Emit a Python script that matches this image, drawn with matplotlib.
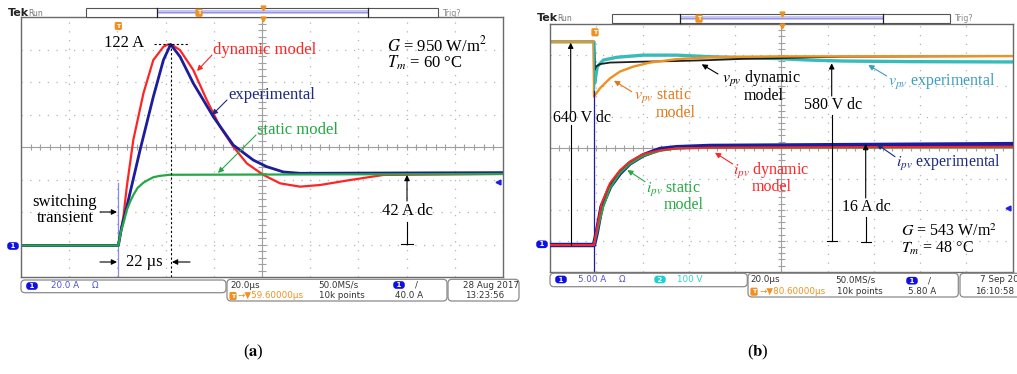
import matplotlib
matplotlib.use("Agg")
import matplotlib.pyplot as plt
from matplotlib.collections import LineCollection
from matplotlib.patches import FancyBboxPatch, Rectangle

plt.rcParams["font.family"] = ["Liberation Serif", "DejaVu Serif"]
plt.rcParams["mathtext.fontset"] = "stix"

W, H = 1017, 374

# ---- (a) current step, 20 A/div, 20 us/div, t = 0 at switching
a_t_dyn = [-41, 0, 2.1, 3.5, 6.2, 10.4, 14.5, 16.6, 18.7, 20.8, 22.8, 25.6, 31.1, 36.7,
           42.2, 47.7, 53.3, 60.2, 67.1, 75.4, 83.7, 96.1, 110.0, 160]
a_i_dyn = [0, 0, 17.5, 35.7, 64.0, 92.3, 112.5, 116.5, 120.6, 122.0, 121.2, 118.5, 106.4, 88.2,
           72.0, 59.9, 49.8, 42.8, 37.7, 35.7, 36.7, 39.7, 42.8, 43.4]
a_t_exp = [-41, 0, 1.4, 3.5, 9.0, 14.5, 18.7, 21.7, 25.6, 31.1, 39.4, 47.7, 56.0, 61.6,
           68.5, 75.4, 160]
a_i_exp = [0, 0, 11.4, 23.5, 57.9, 90.2, 112.5, 122.0, 114.5, 98.4, 78.1, 60.9, 51.8, 47.8,
           44.6, 43.8, 44.2]
a_t_sta = [-41, 0, 1.0, 2.1, 3.5, 5.0, 6.2, 8.0, 10.4, 12.0, 14.5, 17.0, 21.3, 160]
a_i_sta = [0, 0, 8.0, 13.5, 21.5, 27.0, 30.6, 35.0, 38.1, 39.5, 41.4, 42.2, 42.9, 43.4]
a_spike_t = [0, 0]
a_spike_i = [38, -19]

# ---- (b) ipv (5 A/div) and vpv (100 V/div), 20 us/div
b_t_idyn = [-20, 0, 1.44, 3.31, 6.92, 11.24, 15.56, 21.3, 28.5, 35.7, 50.1, 182]
b_i_idyn = [0, 0, 3.0, 6.7, 10.0, 12.1, 13.5, 14.7, 15.3, 15.6, 15.7, 15.9]
b_t_ista = [-20, 0, 1.87, 4.03, 6.92, 11.24, 15.56, 21.3, 28.5, 35.7, 50.1, 182]
b_i_ista = [0, 0, 3.0, 6.2, 9.2, 11.6, 13.1, 14.4, 15.2, 15.6, 15.7, 15.8]
b_t_iexp = [-20, 0, 1.15, 3.31, 6.92, 11.24, 15.56, 21.3, 28.5, 35.7, 50.1, 182]
b_i_iexp = [0, 0, 1.9, 6.2, 9.4, 11.6, 13.2, 14.5, 15.5, 15.8, 16.0, 16.3]

b_t_vsta = [-20, 0, 0, 2.59, 6.92, 11.24, 17.0, 24.2, 35.7, 50.1, 64.5, 79.0, 182]
b_v_vsta = [640, 640, 463, 490, 522, 544, 560, 573, 584, 590, 592, 593, 594]
b_t_vdyn = [-20, 0, 0.4, 0.86, 2.59, 6.92, 21.3, 35.7, 50.1, 64.5, 79.0, 93.4, 107.8, 182]
b_v_vdyn = [640, 640, 550, 560, 568, 573, 576, 578, 581, 585, 587, 590, 592, 594]
b_t_vexp = [-20, 0, 0.3, 1.44, 4.03, 9.8, 21.3, 35.7, 50.1, 64.5, 79.0, 93.4, 107.8, 122.2,
            136.6, 182]
b_v_vexp = [640, 640, 506, 560, 581, 590, 597, 597, 592, 589, 586, 581, 578, 577,
            576, 575]
b_spike_t = [0, 0]
b_spike_v = [-100, 480]      # switching transient seen on channel 1
b_spike_cyan = [480, 640]

RED, GREEN, NAVY = "#ff2424", "#25a844", "#1c1c9c"
ORANGE, CYAN = "#f09020", "#22b4b4"

fig = plt.figure(figsize=(W / 100, H / 100), dpi=100)


def px_rect(l, r, t, b):
    return [l / W, 1 - b / H, (r - l) / W, (b - t) / H]


def graticule(ax):
    ax.set_xticks([])
    ax.set_yticks([])
    for s in ax.spines.values():
        s.set_color("#6a6a6a")
        s.set_linewidth(1)
    tr = ax.transAxes
    for i in range(1, 10):
        ax.plot([i / 10] * 2, [0, 1], transform=tr, color="#b4b4b4", lw=0.9, ls=(0, (1, 6)), zorder=0)
    for j in range(1, 8):
        ax.plot([0, 1], [j / 8] * 2, transform=tr, color="#b4b4b4", lw=0.9, ls=(0, (1, 6)), zorder=0)
    ax.plot([0.5, 0.5], [0, 1], transform=tr, color="#a0a0a0", lw=0.8, zorder=0)
    ax.plot([0, 1], [0.5, 0.5], transform=tr, color="#a0a0a0", lw=0.8, zorder=0)
    segs = [[(k / 50, 0.488), (k / 50, 0.512)] for k in range(1, 50)]
    segs += [[(0.492, k / 40), (0.508, k / 40)] for k in range(1, 40)]
    ax.add_collection(LineCollection(segs, colors="#a0a0a0", lw=0.8, transform=tr, zorder=0))


# panel (a)
axa = fig.add_axes(px_rect(21, 503, 17, 277))
graticule(axa)
axa.set_xlim(-40.4, 159.6)
axa.set_ylim(-19.1, 138.6)
axa.plot(a_spike_t, a_spike_i, color="#8a8ae0", lw=0.9)
axa.plot(a_t_dyn, a_i_dyn, color=RED, lw=1.6)
axa.plot(a_t_exp, a_i_exp, color=NAVY, lw=2.0)
axa.plot(a_t_sta, a_i_sta, color=GREEN, lw=1.6)
ip = max(a_i_exp)
tp = a_t_exp[a_i_exp.index(ip)]
axa.plot([tp, tp], [-19.1, ip], color="black", lw=0.8, ls=(0, (2, 2)))
axa.plot([tp - 7, tp + 7], [ip, ip], color="black", lw=0.8, ls=(0, (2, 2)))

# panel (b): voltage axis underneath, current axis on top
axv = fig.add_axes(px_rect(550, 1012.7, 24, 271.7))
axv.set_xlim(-19, 181)
axv.set_ylim(-102.4, 697.6)
graticule(axv)
axv.plot(b_t_vexp, b_v_vexp, color=CYAN, lw=2.4, alpha=0.9)
axv.plot(b_t_vdyn, b_v_vdyn, color="#202020", lw=1.3)
axv.plot(b_t_vsta, b_v_vsta, color=ORANGE, lw=1.7)
axv.plot(b_spike_t, b_spike_cyan, color=CYAN, lw=0.8)
axv.plot(b_spike_t, b_spike_v, color=NAVY, lw=0.9)

axb = fig.add_axes(px_rect(550, 1012.7, 24, 271.7))
axb.set_xlim(-19, 181)
axb.set_ylim(-4.31, 35.7)
axb.axis("off")
axb.patch.set_alpha(0)
axb.plot(b_t_iexp, b_i_iexp, color=NAVY, lw=3.2)
axb.plot(b_t_ista, b_i_ista, color=GREEN, lw=1.5)
axb.plot(b_t_idyn, b_i_idyn, color=RED, lw=1.4)

# overlay in pixel coordinates for labels and scope chrome
ov = fig.add_axes([0, 0, 1, 1])
ov.set_xlim(0, W)
ov.set_ylim(H, 0)
ov.axis("off")
ov.patch.set_alpha(0)

FS_A, FS_B = 12, 11.5


def arrow(x0, y0, x1, y1, c="black"):
    ov.annotate("", xy=(x1, y1), xytext=(x0, y0),
                arrowprops=dict(arrowstyle="-|>", color=c, lw=0.8, mutation_scale=8,
                                shrinkA=0, shrinkB=0))


def txt(x, y, s, c="black", fs=FS_A, ha="left"):
    ov.text(x, y, s, color=c, fontsize=fs, ha=ha, va="center")


# (a) labels
txt(124, 43, "122 A", ha="center")
txt(213, 50, "dynamic model", RED)
arrow(212, 55, 197, 71, RED)
txt(228, 95, "experimental", "#1f2a80")
arrow(227, 100, 212, 115, "#1f2a80")
txt(257, 130, "static model", GREEN)
arrow(256, 135, 218, 173, GREEN)
txt(387, 45, r"$G$ = 950 W/m$^2$")
txt(387, 63, r"$T_m$ = 60 °C")
txt(65, 202, "switching", ha="center")
txt(65, 218, "transient", ha="center")
arrow(100, 212, 117, 212)
txt(407, 211, "42 A dc", ha="center")
arrow(407, 201, 407, 175)
ov.plot([407, 407], [222, 244], color="black", lw=0.8)
ov.plot([401, 413], [244, 244], color="black", lw=0.8)
txt(144, 262, "22 µs", ha="center")
arrow(100, 262, 117, 262)
arrow(190, 262, 172, 262)

# (b) labels
txt(581.7, 118.3, "640 V dc", fs=FS_B, ha="center")
arrow(570.7, 112, 570.7, 42.7)
ov.plot([570.7, 570.7], [125, 245], color="black", lw=0.8)
txt(833.3, 105, "580 V dc", fs=FS_B, ha="center")
arrow(831.7, 96, 831.7, 63.3)
ov.plot([831.7, 831.7], [115, 240.7], color="black", lw=0.8)
ov.plot([826.7, 836.7], [240.7, 240.7], color="black", lw=0.8)
txt(866, 206.7, "16 A dc", fs=FS_B, ha="center")
arrow(865.7, 198, 865.7, 144)
ov.plot([865.7, 865.7], [216.7, 241.7], color="black", lw=0.8)
ov.plot([860.7, 870.7], [241.7, 241.7], color="black", lw=0.8)

txt(721.7, 79, r"$v_{pv}$ dynamic", fs=FS_B)
txt(763.3, 96, "model", fs=FS_B, ha="center")
arrow(718, 74, 701.7, 64.3)
txt(634, 96.5, r"$v_{pv}$ static", "#e07818", fs=FS_B)
txt(675.7, 112.5, "model", "#e07818", fs=FS_B, ha="center")
arrow(631.7, 91.7, 614, 80.7, "#e07818")
txt(888.3, 81.7, r"$v_{pv}$ experimental", "#3a9ec0", fs=FS_B)
arrow(886.7, 76, 868.3, 65, "#3a9ec0")
txt(732.7, 170.7, r"$i_{pv}$ dynamic", RED, fs=FS_B)
txt(771.7, 187, "model", RED, fs=FS_B, ha="center")
arrow(732.7, 164, 715, 152.7, RED)
txt(646, 189, r"$i_{pv}$ static", GREEN, fs=FS_B)
txt(684, 205, "model", GREEN, fs=FS_B, ha="center")
arrow(645, 181.7, 627.3, 170, GREEN)
txt(896, 162.7, r"$i_{pv}$ experimental", "#1a2a80", fs=FS_B)
arrow(895, 156.7, 876.7, 144, "#1a2a80")
txt(900.7, 231.7, r"$G$ = 543 W/m$^2$", fs=FS_B)
txt(900.7, 248.3, r"$T_m$ = 48 °C", fs=FS_B)

txt(253, 352, r"($\mathbf{a}$)", fs=12, ha="center")
txt(758, 352, r"($\mathbf{b}$)", fs=12, ha="center")

# scope chrome
SANS = "DejaVu Sans"


def small(x, y, s, c="#333333", fs=6.3, ha="left", weight="normal"):
    ov.text(x, y, s, color=c, fontsize=fs, ha=ha, va="center", family=SANS, fontweight=weight)


def tmark(x, y):
    ov.text(x, y, "T", color="white", fontsize=4.5, ha="center", va="center", family=SANS,
            fontweight="bold",
            bbox=dict(boxstyle="round,pad=0.25", fc=ORANGE, ec="none"))


def chan(x, y, n, fc="#1010e0"):
    ov.text(x, y, " " + n + " ", color="white", fontsize=5, ha="center", va="center",
            family=SANS, fontweight="bold",
            bbox=dict(boxstyle="round,pad=0.12,rounding_size=0.45", fc=fc, ec="none"))


def header(tek_x, y, bx0, bx1, d1, d2, tx, cx, top, bot, gtop):
    small(tek_x, y, "Tek", "#222222", fs=8, weight="bold")
    small(tek_x + 20, y, "Run", "#777777", fs=5.5)
    ov.add_patch(Rectangle((bx0, top), bx1 - bx0, bot - top, fc="white", ec="#555555", lw=0.8))
    ov.add_patch(Rectangle((d1, top + 2), d2 - d1, 3.5, fc="#c6c6f6", ec="none"))
    ov.plot([d1, d2], [top + 3.5, top + 3.5], color="#8c8ce6", lw=0.6)
    ov.plot([d1, d1], [top, bot], color="#222222", lw=0.9)
    ov.plot([d2, d2], [top, bot], color="#222222", lw=0.9)
    tmark(tx, (top + bot) / 2)
    ov.plot([cx], [top], marker="v", color=ORANGE, ms=3.5)
    ov.plot([cx], [gtop + 1.5], marker="v", color=ORANGE, ms=3.5)
    small(bx1 + 4, y, "Trig?", "#888888", fs=5.8)


header(8, 13, 86, 438, 157, 368, 199, 263, 8.3, 17.3, 17)
header(537, 18.3, 611.7, 950, 680, 882.7, 699, 781.7, 14, 23.3, 24)
tmark(118.3, 26)
tmark(595, 32.3)
chan(13, 246, "1")
chan(542, 244.3, "1")
ov.plot([498], [182], marker="<", color="#2020e0", ms=3.5)
ov.plot([1008], [208.3], marker="<", color="#2020e0", ms=3.5)


def box(x0, x1, y0, y1):
    ov.add_patch(FancyBboxPatch((x0, y0), x1 - x0, y1 - y0,
                                boxstyle="round,pad=0,rounding_size=4",
                                fc="white", ec="#8a8a8a", lw=0.9))


# (a) status
box(21, 226, 280, 292.7)
chan(32, 286, "1")
small(50.7, 286, "20.0 A", "#5050e0")
small(91.7, 286, "Ω", "#5050e0")
box(227, 447, 279.3, 301)
small(230, 285, "20.0µs")
small(318.3, 285, "50.0MS/s")
chan(399, 285, "1")
small(415, 285, "/")
tmark(233, 296)
small(238, 296, "→▼59.60000µs", ORANGE)
small(319, 296, "10k points")
small(395, 296, "40.0 A")
box(448, 519, 279.3, 301)
small(463.3, 285, "28 Aug 2017")
small(465, 296, "13:23:56")

# (b) status
box(550, 747.3, 273.3, 286.7)
chan(561, 279.5, "1")
small(578.3, 279.5, "5.00 A", "#5050e0")
small(618.3, 279.5, "Ω", "#5050e0")
chan(660, 279.5, "2", "#20d0d0")
small(676.7, 279.5, "100 V", "#30d0d0")
box(748, 958.3, 273.3, 297)
small(750.7, 280, "20.0µs")
small(835, 280, "50.0MS/s")
chan(912, 280.7, "1")
small(928.3, 280.7, "/")
tmark(754, 291.7)
small(759, 291.7, "→▼80.60000µs", ORANGE)
small(836.7, 291.7, "10k points")
small(908.3, 291.7, "5.80 A")
box(960, 1030, 273.3, 297)
small(980, 280, "7 Sep 20")
small(975, 291.7, "16:10:58")

fig.savefig("out.png", dpi=100)
